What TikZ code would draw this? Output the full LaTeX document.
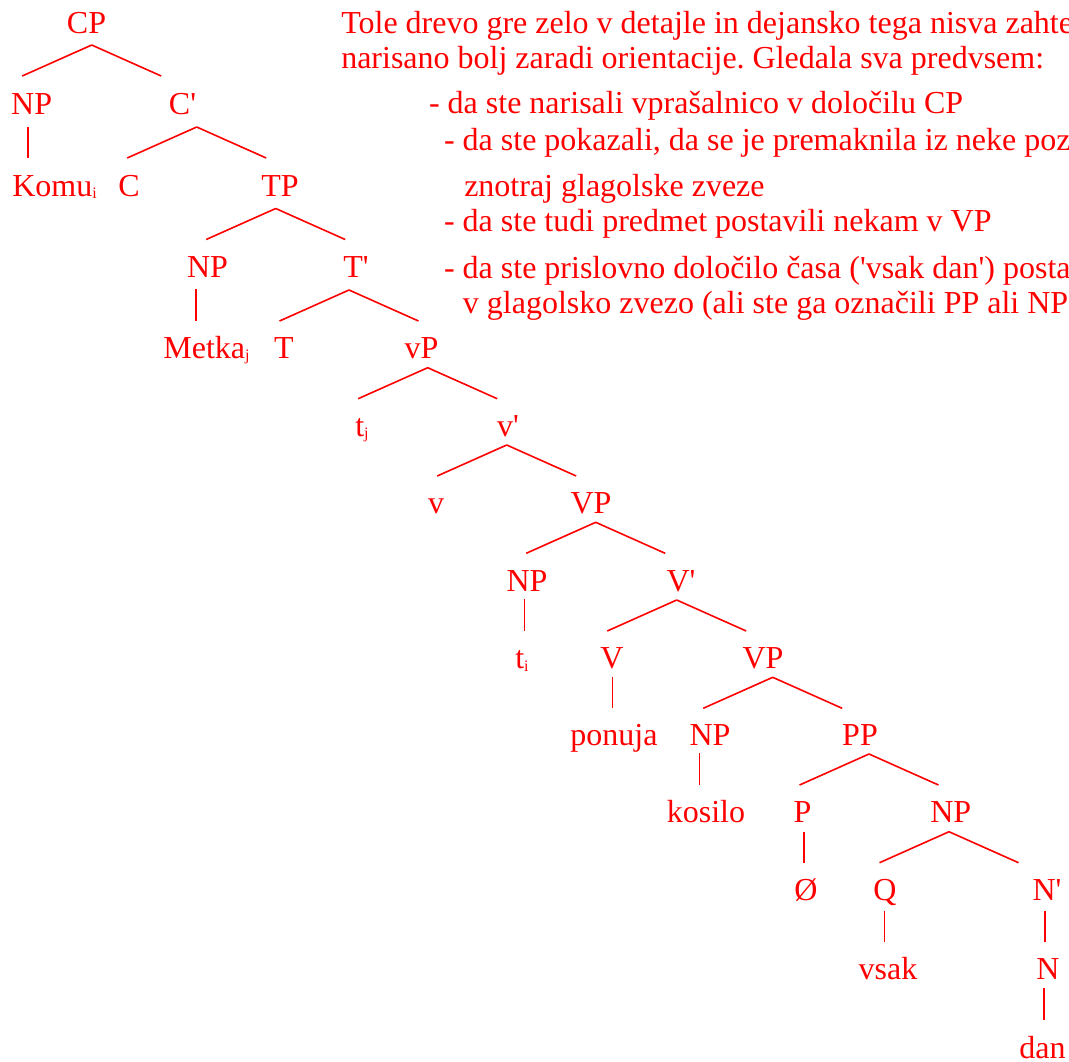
\documentclass[tikz,border=0pt]{standalone}
\usepackage{fontspec}
\setmainfont{Liberation Serif}
\frenchspacing
\definecolor{ink}{RGB}{255,0,0}
\newcommand\treefont{\fontsize{24}{28}\selectfont}
\newcommand\apos{\textquotesingle}
\newcommand\trsub[1]{\raisebox{-2pt}{\fontsize{12}{12}\selectfont #1}}

\begin{document}
\begin{tikzpicture}[
    x=0.75pt, y=-0.75pt,
    every node/.style={
        anchor=base, inner sep=0pt, text=ink, font=\treefont
    },
    note/.style={
        anchor=base west
    },
    branch/.style={
        draw=ink, line width=1.2pt
    }
]
    \useasboundingbox (0,0) rectangle (1069,1061);
    \clip (0,0) rectangle (1069,1061);

    \node (cp)     at (86.5,33.3)   {CP};
    \node (npa)    at (31.7,114.3)  {NP};
    \node (cbar)   at (182.5,114.3) {C\apos};
    \node (komu)   at (54.5,196)    {Komu\trsub{i}};
    \node (c)      at (129,196)     {C};
    \node (tp)     at (280,196)     {TP};
    \node (npb)    at (207.5,277.7) {NP};
    \node (tbar)   at (356,277.7)   {T\apos};
    \node (metka)  at (206.5,358.2) {Metka\trsub{j}};
    \node (t)      at (284,358.2)   {T};
    \node (vp)     at (421.5,358.2) {vP};
    \node (tj)     at (362,436)     {t\trsub{j}};
    \node (vbar)   at (508,436)     {v\apos};
    \node (v)      at (436,513)     {v};
    \node (vpa)    at (591,513)     {VP};
    \node (npc)    at (527,591)     {NP};
    \node (vbarb)  at (681,591)     {V\apos};
    \node (ti)     at (522,668.5)   {t\trsub{i}};
    \node (verb)   at (612,668.5)   {V};
    \node (vpb)    at (763,668.5)   {VP};
    \node (ponuja) at (614,745.5)   {ponuja};
    \node (npd)    at (710,745.5)   {NP};
    \node (pp)     at (860,745.5)   {PP};
    \node (kosilo) at (706,822.8)   {kosilo};
    \node (p)      at (802.5,822.8) {P};
    \node (npe)    at (950.7,822.8) {NP};
    \node (empty)  at (806,900)     {Ø};
    \node (q)      at (885,900)     {Q};
    \node (nbar)   at (1047,900)    {N\apos};
    \node (vsak)   at (888,979.5)   {vsak};
    \node (n)      at (1048,979.5)  {N};
    \node (dan)    at (1042.5,1058) {dan};

    \coordinate (cp-fork)    at (91.7,45);
    \coordinate (cbar-fork)  at (196.7,127);
    \coordinate (tp-fork)    at (275.7,208.5);
    \coordinate (tbar-fork)  at (349,290);
    \coordinate (vp-fork)    at (427.7,367.7);
    \coordinate (vbar-fork)  at (506.7,445);
    \coordinate (vpa-fork)   at (595.7,522.3);
    \coordinate (vbarb-fork) at (676.7,600);
    \coordinate (vpb-fork)   at (772.7,677.3);
    \coordinate (pp-fork)    at (869,754);
    \coordinate (npe-fork)   at (949,831.7);

    \coordinate (npa-stem)   at (27.7,126.7);
    \coordinate (npb-stem)   at (195.7,289.3);
    \coordinate (npc-stem)   at (524.3,599.3);
    \coordinate (verb-stem)  at (612.3,676.7);
    \coordinate (npd-stem)   at (699.3,753.3);
    \coordinate (p-stem)     at (803.7,831.7);
    \coordinate (q-stem)     at (884.3,910.7);
    \coordinate (nbar-stem)  at (1045,910.7);
    \coordinate (n-stem)     at (1044,988.3);

    \foreach \f in {cp,cbar,tp,tbar,vp,vbar,vpa,vbarb,vpb,pp,npe} {
        \draw [branch] (\f-fork) -- +(-69.5,31) (\f-fork) -- +(69.5,31);
    }
    \foreach \s in {npa,npb,npc,verb,npd,p,q,nbar,n} {
        \draw [branch] (\s-stem) -- +(0,31.5);
    }

    \node [note] (line1) at (341,33.3)  {Tole drevo gre zelo v detajle in dejansko tega nisva zahte};
    \node [note] (line2) at (341,68.3)  {narisano bolj zaradi orientacije. Gledala sva predvsem:};
    \node [note] (line3) at (428.8,113.3) {- da ste narisali vprašalnico v določilu CP};
    \node [note] (line4) at (443.8,150)   {- da ste pokazali, da se je premaknila iz neke poz};
    \node [note] (line5) at (464,196.7)   {znotraj glagolske zveze};
    \node [note] (line6) at (443.8,231.7) {- da ste tudi predmet postavili nekam v VP};
    \node [note] (line7) at (443.8,278.3) {- da ste prislovno določilo časa (\apos vsak dan\apos) posta};
    \node [note] (line8) at (462.7,313.3) {v glagolsko zvezo (ali ste ga označili PP ali NP};
\end{tikzpicture}
\end{document}
